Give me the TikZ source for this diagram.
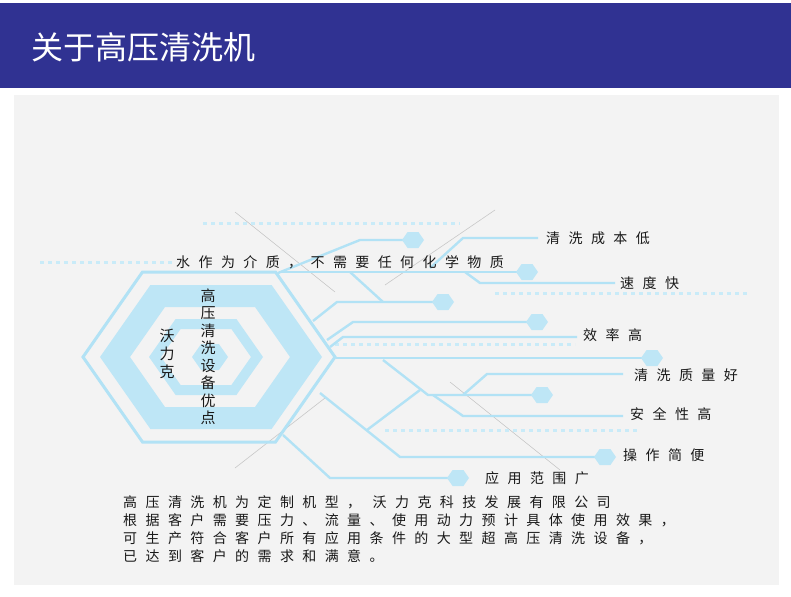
\documentclass[tikz,border=0pt]{standalone}
\usepackage{fontspec}
\setmainfont{Noto Sans CJK SC}
\newfontfamily\cjkwide[LetterSpace=60]{Noto Sans CJK SC}
\usetikzlibrary{positioning}
\definecolor{headblue}{RGB}{48,50,146}
\definecolor{wire}{RGB}{178,226,245}
\definecolor{band}{RGB}{190,230,246}
\definecolor{paper}{RGB}{243,243,243}
\definecolor{streak}{RGB}{200,200,200}
% stretched hexagon, pointy left/right: centre, half width, half height
\newcommand{\hexpath}[3]{(#1)++(-#2,0)--++(0.7*#3,-#3)--++(2*#2-1.4*#3,0)--++(0.7*#3,#3)--++(-0.7*#3,#3)--++(-2*#2+1.4*#3,0)--cycle}
\newcommand{\hexdot}[1]{\fill[band]\hexpath{#1}{11}{8};}
\begin{document}
\begin{tikzpicture}[x=1pt,y=-1pt]
  \tikzset{wireline/.style = {draw=wire,line width=2.4pt}}
  \tikzset{dotline/.style = {draw=wire!70,line width=3pt,dash pattern=on 4pt off 4pt}}
  \tikzset{label/.style = {font=\cjkwide\fontsize{14}{14}\selectfont,text=black!90,anchor=west,inner sep=0pt}}
  \tikzset{vchar/.style = {font=\fontsize{15}{15}\selectfont,text=black!90,inner sep=0pt}}

  \useasboundingbox (0,0) rectangle (791,596);
  \fill[white] (0,0) rectangle (791,596);
  \fill[paper] (14,95) rectangle (779,585);
  \fill[headblue] (0,3) rectangle (791,88);
  \node[anchor=west,text=white,font=\fontsize{32}{32}\selectfont] (title) at (28,47) {关于高压清洗机};

  % faint streaks
  \draw[streak,line width=0.6pt] (235,212) -- (335,292);
  \draw[streak,line width=0.6pt] (495,210) -- (385,285);
  \draw[streak,line width=0.6pt] (325,398) -- (235,468);
  \draw[streak,line width=0.6pt] (450,382) -- (560,470);

  % dotted strips
  \draw[dotline] (203,223) -- (460,223);
  \draw[dotline] (40,262) -- (175,262);
  \draw[dotline] (495,293) -- (750,293);
  \draw[dotline] (335,344) -- (575,344);
  \draw[dotline] (385,430) -- (640,430);

  % hexagon rings
  \draw[wire,line width=3pt] \hexpath{209,357}{126}{85};
  \fill[band,even odd rule] \hexpath{211,357}{111}{72} \hexpath{210,357}{80}{50};
  \fill[band,even odd rule] \hexpath{206,357}{57}{38} \hexpath{206,357}{45}{28};
  \fill[band] \hexpath{210,357}{18}{13};

  % wires
  \draw[wireline] (278,273) -- (360,240) -- (413,240);
  \draw[wireline] (430,268) -- (463,238) -- (538,238);
  \draw[wireline] (280,272) -- (527,272);
  \draw[wireline] (465,272) -- (480,283) -- (615,283);
  \draw[wireline] (350,272) -- (383,302);
  \draw[wireline] (313,321) -- (337,302) -- (443,302);
  \draw[wireline] (327,340) -- (353,322) -- (537,322);
  \draw[wireline] (330,347) -- (343,337) -- (577,337);
  \draw[wireline] (336,358) -- (652,358);
  \draw[wireline] (463,395) -- (487,374) -- (623,374);
  \draw[wireline] (383,360) -- (428,395) -- (542,395);
  \draw[wireline] (433,395) -- (463,416) -- (623,416);
  \draw[wireline] (367,430) -- (420,390);
  \draw[wireline] (320,393) -- (400,457) -- (605,457);
  \draw[wireline] (283,435) -- (330,478) -- (458,478);

  \hexdot{413,240}
  \hexdot{527,272}
  \hexdot{443,302}
  \hexdot{537,322}
  \hexdot{652,358}
  \hexdot{542,395}
  \hexdot{605,457}
  \hexdot{458,478}

  % labels
  \node[label] (cost) at (546,238) {清洗成本低};
  \node[label,anchor=south west] (water) at (176,269) {水作为介质，不需要任何化学物质};
  \node[label] (speed) at (620,283) {速度快};
  \node[label] (effic) at (583,335) {效率高};
  \node[label] (quality) at (634,375) {清洗质量好};
  \node[label] (safe) at (630,414) {安全性高};
  \node[label] (easy) at (623,455) {操作简便};
  \node[label] (range) at (485,478) {应用范围广};

  % vertical titles
  \foreach \c [count=\i] in {高,压,清,洗,设,备,优,点}
    \node[vchar] (adv\i) at (208,278+17.5*\i) {\c};
  \foreach \c [count=\i] in {沃,力,克}
    \node[vchar] (brand\i) at (167,318+18*\i) {\c};

  % paragraph
  \node[label] (p1) at (123,502) {高压清洗机为定制机型， 沃力克科技发展有限公司};
  \node[label] (p2) at (123,520) {根据客户需要压力、流量、使用动力预计具体使用效果，};
  \node[label] (p3) at (123,538) {可生产符合客户所有应用条件的大型超高压清洗设备，};
  \node[label] (p4) at (123,556) {已达到客户的需求和满意。};
\end{tikzpicture}
\end{document}
